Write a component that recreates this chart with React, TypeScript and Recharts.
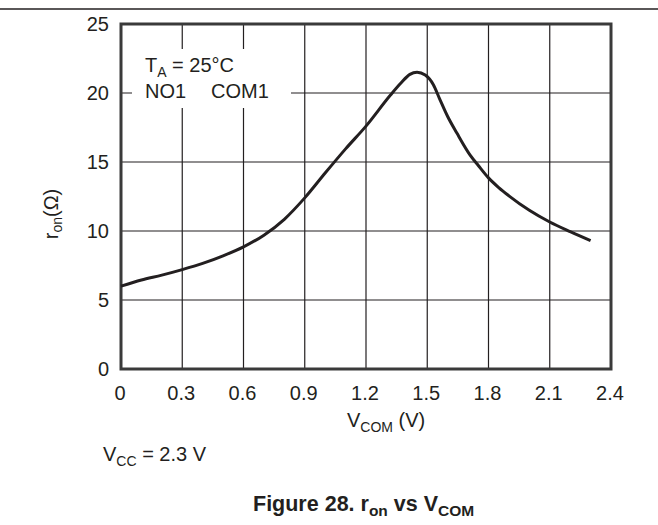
import React from "react";
import { LineChart, Line, XAxis, YAxis, CartesianGrid, ReferenceArea } from "recharts";

const vcom = [0, 0.1, 0.2, 0.3, 0.4, 0.5, 0.6, 0.7, 0.8, 0.9, 1.0, 1.1, 1.2, 1.32, 1.37, 1.415, 1.45, 1.49, 1.53, 1.56, 1.6, 1.645, 1.71, 1.75, 1.8, 1.85, 1.9, 2.0, 2.1, 2.2, 2.3];
const ron = [6.0, 6.45, 6.8, 7.2, 7.65, 8.2, 8.85, 9.7, 10.85, 12.4, 14.2, 15.95, 17.6, 19.85, 20.7, 21.35, 21.5, 21.3, 20.6, 19.6, 18.3, 17.1, 15.5, 14.75, 13.85, 13.15, 12.55, 11.5, 10.65, 9.95, 9.3];
const xTicks = [0, 0.3, 0.6, 0.9, 1.2, 1.5, 1.8, 2.1, 2.4];
const yTicks = [0, 5, 10, 15, 20, 25];

const data = vcom.map((v, i) => ({ v, r: ron[i] }));

const FONT = "'Liberation Sans', Arial, Helvetica, sans-serif";
const INK = "#231f20";

const XTick = (props: any) => {
  const { x, y, payload } = props;
  return (
    <text x={x - 1} y={y + 31} textAnchor="middle" fontFamily={FONT} fontSize={20} fill={INK}>
      {String(payload.value)}
    </text>
  );
};

const YTick = (props: any) => {
  const { x, y, payload } = props;
  return (
    <text x={x - 12} y={y} dy="0.36em" textAnchor="end" fontFamily={FONT} fontSize={20} fill={INK}>
      {String(payload.value)}
    </text>
  );
};

export default function App() {
  return (
    <div style={{ position: "absolute", left: 0, top: 0, width: 658, height: 525, background: "#fff" }}>
      <LineChart width={658} height={525} data={data} margin={{ top: 24, right: 47, bottom: 116, left: 61 }}>
        <CartesianGrid stroke={INK} strokeWidth={1.2} />
        <XAxis
          dataKey="v"
          type="number"
          domain={[0, 2.4]}
          ticks={xTicks}
          height={40}
          tickLine={false}
          axisLine={false}
          tickSize={0}
          tickMargin={0}
          tick={<XTick />}
          interval={0}
        />
        <YAxis
          type="number"
          domain={[0, 25]}
          ticks={yTicks}
          width={60}
          tickLine={false}
          axisLine={false}
          tickSize={0}
          tickMargin={0}
          tick={<YTick />}
          interval={0}
        />
        <ReferenceArea x1={0} x2={2.4} y1={0} y2={25} fill="none" fillOpacity={0} stroke="#3a3a3a" strokeWidth={3} />
        <Line type="monotone" dataKey="r" stroke={INK} strokeWidth={3} dot={false} isAnimationActive={false} />
      </LineChart>
      <svg
        width={658}
        height={525}
        style={{ position: "absolute", left: 0, top: 0, pointerEvents: "none" }}
        fontFamily={FONT}
        fill={INK}
      >
        <line x1={0} y1={9} x2={658} y2={9} stroke={INK} strokeWidth={1.5} />
        <rect x={132} y={49} width={159} height={59} fill="#fff" />
        <text x={145} y={72} fontSize={20}>
          T<tspan dy={5} fontSize={14}>A</tspan>
          <tspan dy={-5}> = 25°C</tspan>
        </text>
        <text x={145} y={98} fontSize={20}>NO1</text>
        <text x={211} y={98} fontSize={20}>COM1</text>
        <text x={58} y={214} fontSize={20} textAnchor="middle" transform="rotate(-90, 58, 214)">
          r<tspan dy={4} fontSize={14}>on</tspan>
          <tspan dy={-4}>(Ω)</tspan>
        </text>
        <text x={347} y={427} fontSize={20}>
          V<tspan dy={5} fontSize={14}>COM</tspan>
          <tspan dy={-5}> (V)</tspan>
        </text>
        <text x={103} y={461} fontSize={20}>
          V<tspan dy={5} fontSize={14}>CC</tspan>
          <tspan dy={-5}> = 2.3 V</tspan>
        </text>
        <text x={253} y={511} fontSize={21.5} fontWeight="bold">
          Figure 28. r<tspan dy={5} fontSize={15.5}>on</tspan>
          <tspan dy={-5}> vs V</tspan>
          <tspan dy={5} fontSize={15.5}>COM</tspan>
        </text>
      </svg>
    </div>
  );
}
